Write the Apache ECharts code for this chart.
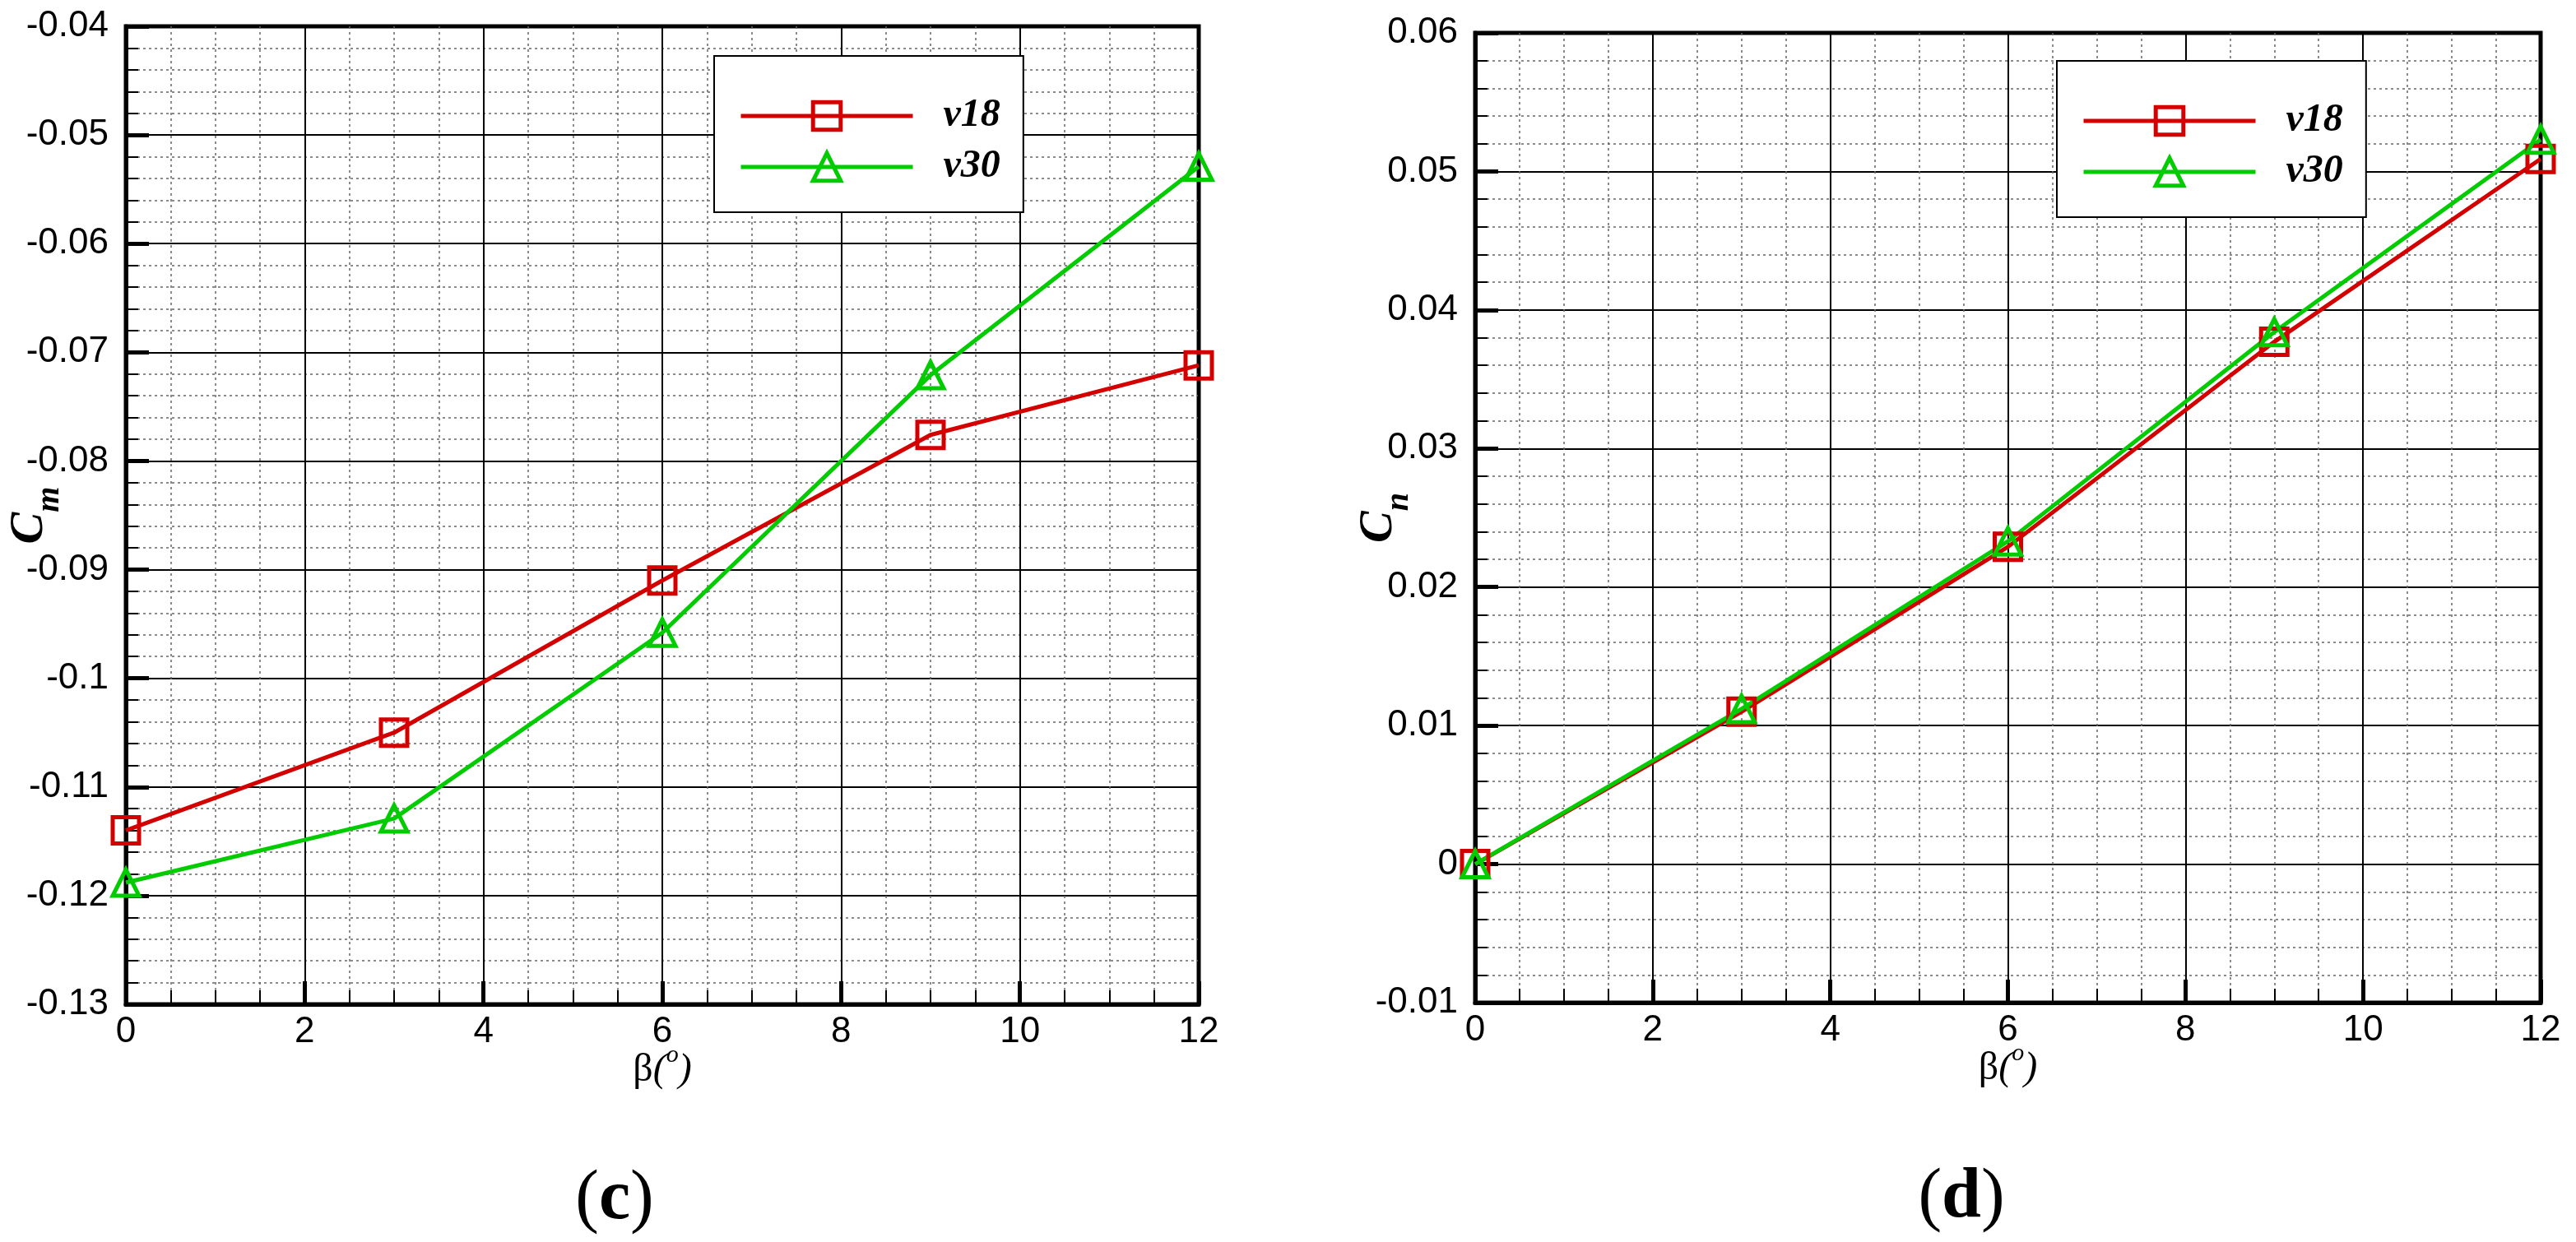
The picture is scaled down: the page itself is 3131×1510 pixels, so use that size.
<!DOCTYPE html>
<html>
<head>
<meta charset="utf-8">
<script src="https://cdn.jsdelivr.net/npm/echarts@6/dist/echarts.min.js"></script>
<style>
  html, body { margin: 0; padding: 0; background: #fff; }
  #main { width: 3131px; height: 1510px; }
</style>
</head>
<body>
<div id="main"></div>
<script>
// sideslip angle (deg)
var beta = [0, 3, 6, 9, 12];
// (c) pitching moment
var cmV18 = [-0.114, -0.105, -0.091, -0.0776, -0.0712];
var cmV30 = [-0.1188, -0.1129, -0.0958, -0.0721, -0.0529];
// (d) yawing moment
var cnV18 = [0, 0.011, 0.0229, 0.0377, 0.0509];
var cnV30 = [0, 0.0112, 0.0233, 0.0384, 0.0523];

var seriesNames = ['v18', 'v30'];
var panelLabels = ['c', 'd'];
var betaRange = [0, 12];
var cmRange = [-0.13, -0.04];
var cnRange = [-0.01, 0.06];

var red = '#d40000';
var green = '#00cc00';
var sans = 'Liberation Sans, Arial, sans-serif';
var serif = 'Liberation Serif, Times New Roman, serif';

function pairs(xs, ys) {
  var out = [];
  for (var i = 0; i < xs.length; ++i) out.push([xs[i], ys[i]]);
  return out;
}

function xAxisFor(g) {
  return {
    type: 'value', gridIndex: g,
    min: betaRange[0], max: betaRange[1], interval: 2,
    name: '{b|β}{p|(}{o|o}{p|)}',
    nameLocation: 'middle', nameGap: 47, nameMoveOverlap: false,
    nameTextStyle: {
      rich: {
        b: { fontSize: 48, fontFamily: serif, color: '#000' },
        p: { fontSize: 48, fontFamily: serif, fontStyle: 'italic', color: '#000' },
        o: { fontSize: 30, fontFamily: serif, fontStyle: 'italic', color: '#000', padding: [0, 0, 36, 0] }
      }
    },
    axisLine: { onZero: false, lineStyle: { color: '#000', width: 5 } },
    axisTick: { inside: true, length: 28, lineStyle: { color: '#000', width: 5 } },
    minorTick: { show: true, splitNumber: 4, length: 17, lineStyle: { color: '#000', width: 2 } },
    axisLabel: { margin: 12, fontSize: 44, color: '#000', fontFamily: sans, showMinLabel: true, showMaxLabel: true },
    splitLine: { show: true, lineStyle: { color: '#000', width: 2 } },
    minorSplitLine: { show: true, lineStyle: { color: '#666', width: 1.5, type: [3, 4] } }
  };
}

function yAxisFor(g, range, sub) {
  return {
    type: 'value', gridIndex: g,
    min: range[0], max: range[1], interval: 0.01,
    name: '{c|C}{s|' + sub + '}',
    nameLocation: 'middle', nameRotate: 90, nameGap: 72, nameMoveOverlap: false,
    nameTextStyle: {
      rich: {
        c: { fontSize: 58, fontFamily: serif, fontStyle: 'italic', fontWeight: 'bold', color: '#000' },
        s: { fontSize: 40, fontFamily: serif, fontStyle: 'italic', fontWeight: 'bold', color: '#000', padding: [50, 0, 0, 0] }
      }
    },
    axisLine: { onZero: false, lineStyle: { color: '#000', width: 5 } },
    axisTick: { inside: true, length: 28, lineStyle: { color: '#000', width: 5 } },
    minorTick: { show: true, splitNumber: 5, length: 15, lineStyle: { color: '#000', width: 2 } },
    axisLabel: { margin: 21, fontSize: 44, color: '#000', fontFamily: sans, showMinLabel: true, showMaxLabel: true },
    splitLine: { show: true, lineStyle: { color: '#000', width: 2 } },
    minorSplitLine: { show: true, lineStyle: { color: '#666', width: 1.5, type: [3, 4] } }
  };
}

function lineSeries(name, g, data, color, symbol) {
  return {
    name: name, type: 'line', xAxisIndex: g, yAxisIndex: g,
    data: data, clip: false,
    symbol: symbol, symbolSize: 32,
    lineStyle: { color: color, width: 5 },
    itemStyle: { color: 'rgba(0,0,0,0)', borderColor: color, borderWidth: 5 },
    emphasis: { disabled: true },
    z: 5
  };
}

function legendFor(left, top) {
  return {
    data: seriesNames, orient: 'vertical',
    left: left, top: top,
    backgroundColor: '#fff', borderColor: '#000', borderWidth: 2,
    padding: [49, 28, 31, 30],
    itemWidth: 209, itemHeight: 42, itemGap: 14,
    selectedMode: false,
    lineStyle: { width: 5 },
    itemStyle: { borderWidth: 5 },
    textStyle: { fontSize: 48, fontFamily: serif, fontStyle: 'italic', fontWeight: 'bold', color: '#000', padding: [0, 0, 0, 32] }
  };
}

function panelLabel(cx, cy, letter) {
  return {
    type: 'text', x: cx, y: cy,
    style: {
      text: '{p|(}{b|' + letter + '}{p|)}',
      rich: {
        p: { fontSize: 86, fontFamily: serif, fill: '#000', color: '#000' },
        b: { fontSize: 86, fontFamily: serif, fontWeight: 'bold', fill: '#000', color: '#000' }
      },
      align: 'center', verticalAlign: 'middle',
      textAlign: 'center', textVerticalAlign: 'middle'
    }
  };
}

var myChart = echarts.init(document.getElementById('main'), null, { renderer: 'canvas' });

var option = {
  backgroundColor: '#fff',
  animation: false,
  grid: [
    { left: 153, top: 32, width: 1304, height: 1189, show: true, borderColor: '#000', borderWidth: 5, backgroundColor: 'transparent', outerBoundsMode: 'none' },
    { left: 1793, top: 40, width: 1295, height: 1179, show: true, borderColor: '#000', borderWidth: 5, backgroundColor: 'transparent', outerBoundsMode: 'none' }
  ],
  xAxis: [xAxisFor(0), xAxisFor(1)],
  yAxis: [yAxisFor(0, cmRange, 'm'), yAxisFor(1, cnRange, 'n')],
  legend: [legendFor(868, 68), legendFor(2500, 74)],
  series: [
    lineSeries(seriesNames[0], 0, pairs(beta, cmV18), red, 'rect'),
    lineSeries(seriesNames[1], 0, pairs(beta, cmV30), green, 'triangle'),
    lineSeries(seriesNames[0], 1, pairs(beta, cnV18), red, 'rect'),
    lineSeries(seriesNames[1], 1, pairs(beta, cnV30), green, 'triangle')
  ],
  graphic: [
    panelLabel(747, 1459, panelLabels[0]),
    panelLabel(2384, 1457, panelLabels[1])
  ]
};

myChart.setOption(option);
</script>
</body>
</html>
